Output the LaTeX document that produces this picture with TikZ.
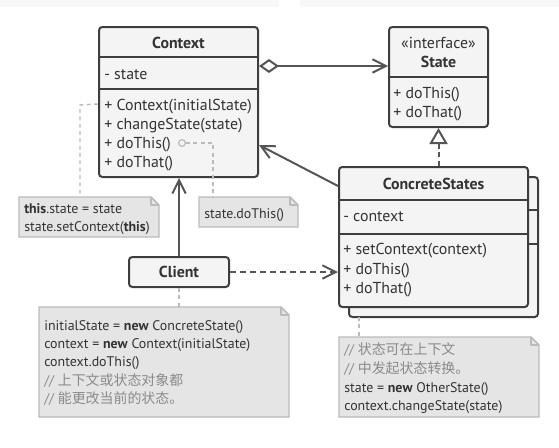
\documentclass[tikz,border=0pt]{standalone}
\usepackage{fontspec}
\setmainfont{PT Sans}
\newfontfamily\cjk{Noto Sans CJK SC}
\usetikzlibrary{arrows.meta,fit}
\definecolor{boxfill}{HTML}{F4F4F4}
\definecolor{boxdraw}{HTML}{3E3E3E}
\definecolor{notefill}{HTML}{E5E5E5}
\definecolor{notedraw}{HTML}{BBBBBB}
\definecolor{conncol}{HTML}{555555}
\definecolor{dotcol}{HTML}{BBBBBB}
\definecolor{textcol}{HTML}{333333}
\definecolor{commentcol}{HTML}{8A8A8A}
\definecolor{bandcol}{HTML}{F8F8F8}
\newcommand\drawnote[1]{%
  \draw[notebox] (#1.north west) -- ([xshift=-6pt]#1.north east) -- ([yshift=-6pt]#1.north east) -- (#1.south east) -- (#1.south west) -- cycle;
  \draw[notebox, fill=none, line join=round] ([xshift=-6pt]#1.north east) -- ([xshift=-6pt,yshift=-6pt]#1.north east) -- ([yshift=-6pt]#1.north east);}
\begin{document}
\begin{tikzpicture}[x=0.75pt,y=-0.75pt,
  box/.style={draw=boxdraw, fill=boxfill, line width=1.5pt, rounded corners=2.5pt, inner sep=0pt},
  area/.style={inner sep=0pt, outer sep=0pt},
  divider/.style={draw=boxdraw, line width=1.5pt},
  notebox/.style={draw=notedraw, fill=notefill, line width=1.1pt},
  conn/.style={draw=conncol, line width=1.5pt},
  dotline/.style={draw=dotcol, line width=1.1pt, dash pattern=on 3pt off 2.5pt},
  barb/.style={-{Straight Barb[length=10pt,width=10pt,line width=1.5pt]}},
  cls/.style={font=\fontsize{11.9pt}{13pt}\selectfont, text=textcol, inner sep=0pt, anchor=base west},
  ttl/.style={font=\fontsize{11.9pt}{13pt}\selectfont\bfseries, text=textcol, inner sep=0pt, anchor=base},
  ntxt/.style={font=\fontsize{10.45pt}{12pt}\selectfont, text=textcol, inner sep=0pt, anchor=base west},
  cmt/.style={ntxt, text=commentcol}]
\useasboundingbox (0,0) rectangle (559,447);
% faint top bands
\fill[bandcol] (0,0) rectangle (279,7);
\fill[bandcol] (300,0) rectangle (559,7);

% ---------- Context ----------
\node[box, fit={(99,27) (258,177)}] (ctx) {};
\draw[divider] (99,57) -- (258,57);
\draw[divider] (99,89) -- (258,89);
\node[ttl] (ctxT) at (178.5,48) {Context};
\node[cls] (ctxA) at (104,79) {- state};
\node[cls] (ctxM1) at (104,110) {+ Context(initialState)};
\node[cls] (ctxM2) at (104,129) {+ changeState(state)};
\node[cls] (ctxM3) at (104,148) {+ doThis()};
\node[cls] (ctxM4) at (104,167) {+ doThat()};

% ---------- State ----------
\node[box, fit={(389,27) (488,127)}] (st) {};
\draw[divider] (389,77) -- (488,77);
\node[ttl, font=\fontsize{11.9pt}{13pt}\selectfont] (stS) at (438.5,48) {«interface»};
\node[ttl] (stT) at (438.5,67) {State};
\node[cls] (stM1) at (393,98) {+ doThis()};
\node[cls] (stM2) at (393,117) {+ doThat()};

% ---------- ConcreteStates ----------
\node[box, fit={(349,177) (538,317)}] (csb) {};
\draw[divider] (349,210) -- (538,210);
\draw[divider] (349,244) -- (538,244);
\node[box, fit={(339,167) (528,307)}] (cs) {};
\draw[divider] (339,200) -- (528,200);
\draw[divider] (339,234) -- (528,234);
\node[ttl] (csT) at (433.5,189) {ConcreteStates};
\node[cls] (csA) at (343,221) {- context};
\node[cls] (csM1) at (343,254) {+ setContext(context)};
\node[cls] (csM2) at (343,274) {+ doThis()};
\node[cls] (csM3) at (343,293) {+ doThat()};

% ---------- Client ----------
\node[box, fit={(129,257) (229,287)}] (cl) {};
\node[ttl] (clT) at (179,277) {Client};

% ---------- Notes ----------
\node[area, fit={(19,197) (159,237)}] (n1) {};
\node[area, fit={(199,197) (298,227)}] (n2) {};
\node[area, fit={(39,307) (289,417)}] (n3) {};
\node[area, fit={(339,337) (539,417)}] (n4) {};
\drawnote{n1}
\drawnote{n2}
\drawnote{n3}
\drawnote{n4}
\node[ntxt] (n1a) at (24,213.5) {\textbf{this}.state = state};
\node[ntxt] (n1b) at (24,231.5) {state.setContext(\textbf{this})};
\node[ntxt] (n2a) at (204,218.5) {state.doThis()};
\node[ntxt] (n3a) at (44,330) {initialState = \textbf{new} ConcreteState()};
\node[ntxt] (n3b) at (44,348) {context = \textbf{new} Context(initialState)};
\node[ntxt] (n3c) at (44,366) {context.doThis()};
\node[cmt] (n3d) at (44,385) {// {\cjk 上下文或状态对象都}};
\node[cmt] (n3e) at (44,403) {// {\cjk 能更改当前的状态。}};
\node[cmt] (n4a) at (344,354) {// {\cjk 状态可在上下文}};
\node[cmt] (n4b) at (344,373) {// {\cjk 中发起状态转换。}};
\node[ntxt] (n4c) at (344,392) {state = \textbf{new} OtherState()};
\node[ntxt] (n4d) at (344,410) {context.changeState(state)};

% ---------- connectors ----------
\draw[conn, {Diamond[open, fill=white, length=15pt, width=10.5pt, line width=1.5pt]}-{Straight Barb[length=10pt,width=10pt,line width=1.5pt]}]
  ([yshift=-30pt]ctx.north east) coordinate (aggA) -- (aggA -| st.west);
\draw[conn, barb] ([yshift=-15pt]cs.north west) -- ([yshift=-89.25pt]ctx.north east);
\draw[conn, dash pattern=on 4pt off 2.5pt, -{Triangle[open, fill=white, length=12pt, width=13.5pt, line width=1.5pt]}]
  (st.south |- cs.north) -- (st.south);
\draw[conn, barb] (cl.north) -- (cl.north |- ctx.south);
\draw[conn, dash pattern=on 4.5pt off 3pt, barb] (cl.east) -- (cl.east -| cs.west);

% dotted note links
\coordinate (p1) at (80,105);
\draw[dotline] ([yshift=-58.5pt]ctx.north west) -- (p1) -- (p1 |- n1.north);
\node[circle, draw=dotcol, line width=0.9pt, fill=boxfill, minimum size=5pt, inner sep=0pt] (dtc) at (182,143) {};
\coordinate (p2) at (213,143);
\draw[dotline] (dtc.east) -- (p2) -- (p2 |- n2.north);
\draw[dotline] (cl.south) -- (cl.south |- n3.north);
\coordinate (p4) at (359,317);
\draw[dotline] (p4) -- (p4 |- n4.north);
\end{tikzpicture}
\end{document}
